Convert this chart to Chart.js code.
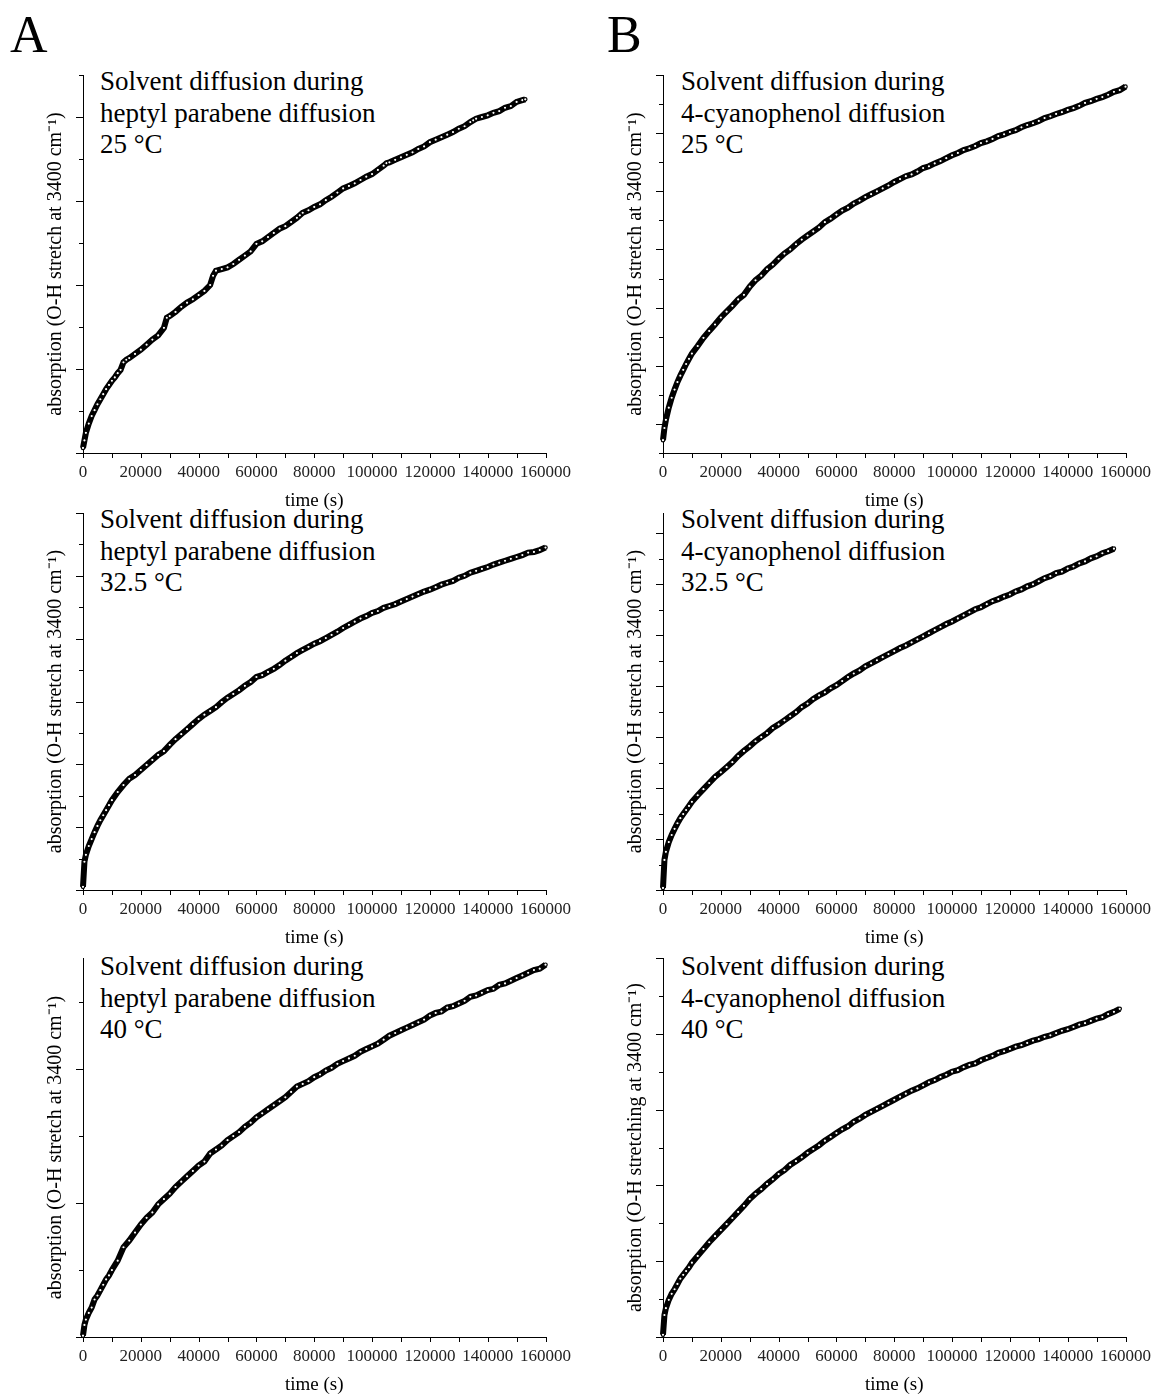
<!DOCTYPE html>
<html>
<head>
<meta charset="utf-8">
<script src="https://cdn.jsdelivr.net/npm/chart.js@4.4.0/dist/chart.umd.min.js"></script>
<style>
  html, body { margin: 0; padding: 0; background: #fff; }
  #page { position: relative; width: 1160px; height: 1396px; overflow: hidden; background: #fff; }
  canvas { position: absolute; }
  .big { position: absolute; font-family: 'Liberation Serif', serif; font-size: 52px; line-height: 52px; color: #000; }
  .note { position: absolute; font-family: 'Liberation Serif', serif; font-size: 27px; line-height: 31.5px; color: #000; white-space: nowrap; }
</style>
</head>
<body>
<div id="page">
  <div class="big" style="left:10px; top:9px;">A</div>
  <div class="big" style="left:607px; top:9px;">B</div>

  <div class="note" style="left:100px; top:66px;">Solvent diffusion during<br>heptyl parabene diffusion<br>25 °C</div>
  <div class="note" style="left:681px; top:66px;">Solvent diffusion during<br>4-cyanophenol diffusion<br>25 °C</div>
  <div class="note" style="left:100px; top:504px;">Solvent diffusion during<br>heptyl parabene diffusion<br>32.5 °C</div>
  <div class="note" style="left:681px; top:504px;">Solvent diffusion during<br>4-cyanophenol diffusion<br>32.5 °C</div>
  <div class="note" style="left:100px; top:951px;">Solvent diffusion during<br>heptyl parabene diffusion<br>40 °C</div>
  <div class="note" style="left:681px; top:951px;">Solvent diffusion during<br>4-cyanophenol diffusion<br>40 °C</div>

  <canvas id="a25" width="580" height="463" style="left:0px; top:60px;"></canvas>
  <canvas id="b25" width="580" height="463" style="left:580px; top:60px;"></canvas>
  <canvas id="a32" width="580" height="462" style="left:0px; top:498px;"></canvas>
  <canvas id="b32" width="580" height="462" style="left:580px; top:498px;"></canvas>
  <canvas id="a40" width="580" height="464" style="left:0px; top:943px;"></canvas>
  <canvas id="b40" width="580" height="464" style="left:580px; top:943px;"></canvas>
</div>

<script>
// time (s) for the heptyl parabene 25 °C run (has small jumps every ~15000 s)
const heptyl25Time = [0, 500, 1000, 2000, 3000, 4000, 5000, 6000, 7000, 8000, 9000, 10000, 11000, 12000, 13000,
  14000, 15000, 16000, 18000, 20000, 22000, 24000, 26000, 28000, 29000, 30000, 32000, 34000, 36000, 38000,
  40000, 42000, 44000, 45000, 46000, 48000, 50000, 52000, 54000, 56000, 58000, 60000, 62000, 64000, 66000,
  68000, 70000, 72000, 74000, 75000, 76000, 78000, 80000, 82000, 84000, 86000, 88000, 90000, 92000, 94000,
  96000, 98000, 100000, 102000, 104000, 105000, 106000, 108000, 110000, 112000, 114000, 116000, 118000,
  120000, 122000, 124000, 126000, 128000, 130000, 132000, 134000, 135000, 136000, 138000, 140000, 142000,
  144000, 146000, 148000, 150000, 152000, 153000];
const heptyl25Abs = [0.06, 0.15, 0.24, 0.35, 0.44, 0.51, 0.58, 0.64, 0.70, 0.76, 0.81, 0.86, 0.90, 0.95, 0.99,
  1.08, 1.11, 1.13, 1.18, 1.23, 1.29, 1.35, 1.40, 1.49, 1.61, 1.63, 1.68, 1.74, 1.79, 1.83,
  1.88, 1.93, 2.00, 2.11, 2.17, 2.19, 2.21, 2.25, 2.30, 2.35, 2.40, 2.49, 2.52, 2.57, 2.62,
  2.67, 2.70, 2.75, 2.80, 2.83, 2.86, 2.89, 2.93, 2.96, 3.01, 3.05, 3.10, 3.15, 3.18, 3.21,
  3.25, 3.29, 3.32, 3.37, 3.42, 3.45, 3.46, 3.49, 3.52, 3.55, 3.58, 3.62, 3.65,
  3.70, 3.73, 3.76, 3.79, 3.82, 3.86, 3.89, 3.94, 3.96, 3.98, 4.00, 4.02, 4.05,
  4.07, 4.11, 4.13, 4.18, 4.20, 4.21];

// time (s) shared by the other five runs
const timeGrid = [0, 500, 1000, 2000, 3000, 4000, 5000, 6000, 7000, 8000, 9000, 10000,
  12000, 14000, 16000, 18000, 20000, 22000, 24000, 26000, 28000, 30000, 32000, 34000, 36000, 38000,
  40000, 42000, 44000, 46000, 48000, 50000, 52000, 54000, 56000, 58000, 60000, 62000, 64000, 66000,
  68000, 70000, 72000, 74000, 76000, 78000, 80000, 82000, 84000, 86000, 88000, 90000, 92000, 94000,
  96000, 98000, 100000, 102000, 104000, 106000, 108000, 110000, 112000, 114000, 116000, 118000,
  120000, 122000, 124000, 126000, 128000, 130000, 132000, 134000, 136000, 138000, 140000, 142000,
  144000, 146000, 148000, 150000, 152000, 154000, 156000, 158000, 160000];

// absorption, in major-tick units of each panel (no y tick labels in the figure)
const cyano25Abs = [-0.28, -0.07, 0.07, 0.28, 0.45, 0.59, 0.72, 0.83, 0.93, 1.03, 1.12, 1.21,
  1.34, 1.48, 1.60, 1.71, 1.83, 1.93, 2.03, 2.14, 2.22, 2.36, 2.47, 2.55, 2.66, 2.74,
  2.84, 2.93, 3.00, 3.09, 3.17, 3.24, 3.31, 3.38, 3.47, 3.53, 3.60, 3.67, 3.72, 3.79,
  3.84, 3.90, 3.95, 4.00, 4.05, 4.10, 4.16, 4.21, 4.26, 4.29, 4.34, 4.40, 4.43, 4.48,
  4.52, 4.57, 4.62, 4.66, 4.71, 4.74, 4.78, 4.83, 4.86, 4.90, 4.95, 4.98,
  5.02, 5.05, 5.10, 5.14, 5.17, 5.21, 5.26, 5.29, 5.33, 5.36, 5.40, 5.43,
  5.47, 5.52, 5.55, 5.59, 5.62, 5.66, 5.71, 5.74, 5.80];

const heptyl32Abs = [0.05, 0.45, 0.56, 0.70, 0.81, 0.92, 1.02, 1.11, 1.19, 1.27, 1.35, 1.43,
  1.56, 1.67, 1.77, 1.83, 1.91, 1.99, 2.07, 2.15, 2.21, 2.31, 2.40, 2.48, 2.56, 2.64,
  2.72, 2.79, 2.85, 2.91, 2.99, 3.06, 3.12, 3.18, 3.25, 3.31, 3.39, 3.42, 3.47, 3.52,
  3.58, 3.65, 3.71, 3.77, 3.82, 3.87, 3.92, 3.96, 4.01, 4.06, 4.11, 4.17, 4.22, 4.27,
  4.32, 4.36, 4.41, 4.44, 4.49, 4.52, 4.55, 4.59, 4.63, 4.67, 4.71, 4.75,
  4.78, 4.82, 4.86, 4.89, 4.92, 4.97, 5.00, 5.05, 5.08, 5.11, 5.14, 5.18,
  5.21, 5.24, 5.27, 5.30, 5.33, 5.37, 5.38, 5.41, 5.45];

const cyano32Abs = [0.04, 0.59, 0.75, 0.94, 1.08, 1.20, 1.31, 1.41, 1.49, 1.57, 1.65, 1.73,
  1.86, 1.98, 2.10, 2.22, 2.31, 2.41, 2.51, 2.63, 2.73, 2.82, 2.92, 3.00, 3.08, 3.18,
  3.25, 3.33, 3.41, 3.49, 3.59, 3.66, 3.75, 3.82, 3.88, 3.96, 4.02, 4.10, 4.18, 4.25,
  4.31, 4.39, 4.45, 4.51, 4.57, 4.63, 4.69, 4.75, 4.80, 4.86, 4.92, 4.98, 5.04, 5.10,
  5.16, 5.22, 5.27, 5.33, 5.39, 5.45, 5.51, 5.55, 5.61, 5.67, 5.71, 5.76,
  5.80, 5.86, 5.90, 5.96, 6.00, 6.06, 6.12, 6.16, 6.22, 6.25, 6.31, 6.35,
  6.41, 6.45, 6.51, 6.55, 6.61, 6.65, 6.70];

const heptyl40Abs = [0.01, 0.09, 0.13, 0.18, 0.22, 0.28, 0.31, 0.35, 0.39, 0.43, 0.46, 0.50,
  0.57, 0.67, 0.72, 0.78, 0.84, 0.89, 0.93, 0.99, 1.03, 1.07, 1.12, 1.16, 1.20, 1.24,
  1.28, 1.31, 1.37, 1.40, 1.43, 1.47, 1.50, 1.53, 1.57, 1.60, 1.64, 1.67, 1.70, 1.73,
  1.76, 1.79, 1.83, 1.87, 1.89, 1.91, 1.94, 1.96, 1.99, 2.01, 2.04, 2.06, 2.08, 2.10,
  2.13, 2.15, 2.17, 2.19, 2.22, 2.25, 2.27, 2.29, 2.31, 2.33, 2.35, 2.37,
  2.40, 2.42, 2.43, 2.46, 2.47, 2.49, 2.51, 2.54, 2.55, 2.57, 2.59, 2.60,
  2.63, 2.64, 2.66, 2.68, 2.70, 2.72, 2.74, 2.75, 2.78];

const cyano40Abs = [0.03, 0.29, 0.38, 0.49, 0.57, 0.63, 0.70, 0.77, 0.82, 0.87, 0.92, 0.98,
  1.07, 1.16, 1.25, 1.33, 1.41, 1.49, 1.57, 1.65, 1.73, 1.82, 1.89, 1.95, 2.02, 2.08,
  2.15, 2.20, 2.27, 2.32, 2.37, 2.43, 2.48, 2.53, 2.59, 2.64, 2.69, 2.74, 2.78, 2.84,
  2.88, 2.93, 2.97, 3.01, 3.05, 3.09, 3.13, 3.17, 3.21, 3.25, 3.28, 3.32, 3.36, 3.39,
  3.43, 3.46, 3.50, 3.52, 3.56, 3.59, 3.61, 3.65, 3.68, 3.71, 3.75, 3.77,
  3.80, 3.83, 3.85, 3.88, 3.91, 3.93, 3.96, 3.98, 4.01, 4.04, 4.06, 4.09,
  4.12, 4.14, 4.17, 4.20, 4.22, 4.26, 4.29, 4.33];

const xTickStep = 20000;
const yTitle = 'absorption (O-H stretch at 3400 cm\u207B\u00B9)';
const yTitleB40 = 'absorption (O-H stretching at 3400 cm\u207B\u00B9)';

// small outward tick marks: x every 10000, y major/minor alternating
const tickMarks = {
  id: 'tickMarks',
  afterDraw(chart) {
    const ctx = chart.ctx;
    const x = chart.scales.x, y = chart.scales.y;
    ctx.save();
    ctx.strokeStyle = '#000';
    ctx.lineWidth = 1;
    ctx.beginPath();
    for (let v = 0; v <= 160000; v += 10000) {
      const px = Math.round(x.getPixelForValue(v)) + 0.5;
      ctx.moveTo(px, x.top);
      ctx.lineTo(px, x.top + 5);
    }
    for (let k = Math.ceil(y.min * 2); k <= Math.floor(y.max * 2 + 1e-6); k++) {
      const v = k / 2;
      const py = Math.round(y.getPixelForValue(v)) + 0.5;
      const len = k % 2 === 0 ? 7 : 4;
      ctx.moveTo(y.right, py);
      ctx.lineTo(y.right - len, py);
    }
    ctx.stroke();
    ctx.restore();
  }
};

function makePanel(id, times, values, yMin, yMax, title) {
  const pts = [];
  const n = Math.min(times.length, values.length);
  for (let i = 0; i < n; i++) pts.push({ x: times[i], y: values[i] });

  new Chart(document.getElementById(id), {
    type: 'scatter',
    data: {
      datasets: [{
        data: pts,
        showLine: true,
        borderColor: '#000',
        borderWidth: 6,
        pointRadius: 1.7,
        pointBackgroundColor: '#fff',
        pointBorderColor: '#000',
        pointBorderWidth: 1.2,
        clip: false
      }]
    },
    options: {
      responsive: false,
      animation: false,
      layout: { padding: { top: 15, right: 29, left: 0, bottom: 0 } },
      plugins: { legend: { display: false }, tooltip: { enabled: false } },
      scales: {
        x: {
          type: 'linear',
          min: 0,
          max: 160000,
          afterFit: s => { s.height = 70; },
          grid: { display: false, drawTicks: false },
          border: { color: '#000', width: 1 },
          ticks: {
            stepSize: xTickStep,
            autoSkip: false,
            maxRotation: 0,
            padding: 9,
            color: '#222',
            font: { family: 'Liberation Serif', size: 17 },
            callback: v => String(v)
          },
          title: {
            display: true,
            text: 'time (s)',
            color: '#000',
            font: { family: 'Liberation Serif', size: 19 },
            padding: { top: 0, bottom: 11 }
          }
        },
        y: {
          type: 'linear',
          min: yMin,
          max: yMax,
          afterFit: s => { s.width = 83; },
          grid: { display: false, drawTicks: false },
          border: { color: '#000', width: 1 },
          ticks: { display: false },
          title: {
            display: true,
            text: title,
            color: '#000',
            font: { family: 'Liberation Serif', size: 20 },
            padding: { top: 44, bottom: 0 }
          }
        }
      }
    },
    plugins: [tickMarks]
  });
}

makePanel('a25', heptyl25Time, heptyl25Abs, 0, 4.5, yTitle);
makePanel('b25', timeGrid, cyano25Abs, -0.5, 6, yTitle);
makePanel('a32', timeGrid, heptyl32Abs, 0, 6, yTitle);
makePanel('b32', timeGrid, cyano32Abs, 0, 7.4, yTitle);
makePanel('a40', timeGrid, heptyl40Abs, 0, 2.83, yTitle);
makePanel('b40', timeGrid, cyano40Abs, 0, 5, yTitleB40);
</script>
</body>
</html>
